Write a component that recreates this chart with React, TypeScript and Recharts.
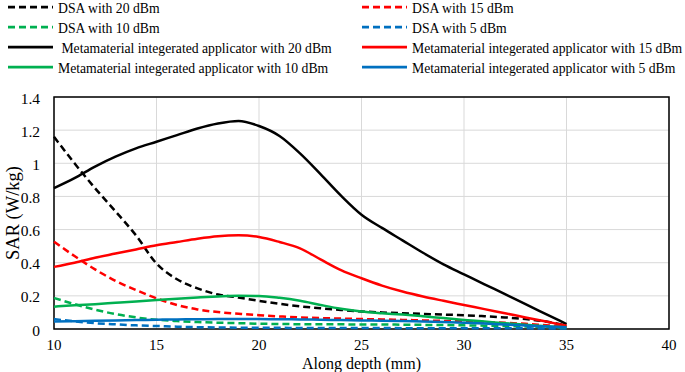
import React from "react";
import {
  LineChart,
  Line,
  XAxis,
  YAxis,
  CartesianGrid,
  ReferenceArea,
  Customized,
} from "recharts";

const depth = [10, 11, 12, 13, 14, 15, 16, 17, 18, 19, 20, 21, 22, 23, 24, 25, 26, 27, 28, 29, 30, 31, 32, 33, 34, 35];

const dsa20 = [1.16, 1.0, 0.85, 0.71, 0.565, 0.395, 0.3, 0.245, 0.208, 0.19, 0.17, 0.152, 0.137, 0.125, 0.115, 0.106, 0.1, 0.095, 0.091, 0.087, 0.083, 0.077, 0.07, 0.06, 0.045, 0.02];
const dsa15 = [0.527, 0.44, 0.36, 0.29, 0.235, 0.185, 0.145, 0.118, 0.102, 0.092, 0.083, 0.076, 0.07, 0.066, 0.063, 0.06, 0.058, 0.055, 0.052, 0.049, 0.046, 0.042, 0.037, 0.031, 0.023, 0.015];
const dsa10 = [0.187, 0.15, 0.117, 0.09, 0.07, 0.056, 0.048, 0.042, 0.038, 0.035, 0.032, 0.03, 0.029, 0.028, 0.028, 0.027, 0.027, 0.026, 0.025, 0.024, 0.022, 0.02, 0.018, 0.015, 0.012, 0.008];
const dsa5 = [0.06, 0.046, 0.035, 0.028, 0.022, 0.018, 0.014, 0.011, 0.009, 0.008, 0.007, 0.007, 0.006, 0.006, 0.006, 0.006, 0.006, 0.005, 0.005, 0.005, 0.005, 0.005, 0.004, 0.004, 0.003, 0.003];
const meta20 = [0.85, 0.91, 0.98, 1.04, 1.09, 1.13, 1.17, 1.21, 1.24, 1.255, 1.225, 1.165, 1.06, 0.935, 0.805, 0.69, 0.61, 0.535, 0.46, 0.39, 0.33, 0.27, 0.21, 0.15, 0.09, 0.03];
const meta15 = [0.375, 0.4, 0.43, 0.455, 0.48, 0.505, 0.525, 0.545, 0.56, 0.565, 0.555, 0.525, 0.487, 0.42, 0.355, 0.306, 0.262, 0.226, 0.196, 0.17, 0.145, 0.12, 0.095, 0.07, 0.045, 0.02];
const meta10 = [0.135, 0.143, 0.15, 0.158, 0.166, 0.175, 0.183, 0.19, 0.196, 0.2, 0.199, 0.188, 0.17, 0.145, 0.122, 0.105, 0.095, 0.087, 0.077, 0.066, 0.055, 0.045, 0.035, 0.025, 0.016, 0.01];
const meta5 = [0.045, 0.047, 0.05, 0.052, 0.054, 0.056, 0.058, 0.059, 0.06, 0.06, 0.06, 0.059, 0.058, 0.056, 0.054, 0.052, 0.05, 0.048, 0.045, 0.042, 0.038, 0.033, 0.027, 0.021, 0.015, 0.01];

const xTicks = [10, 15, 20, 25, 30, 35, 40];
const yTicks = [0, 0.2, 0.4, 0.6, 0.8, 1, 1.2, 1.4];

const seriesKeys = ["dsa20", "dsa15", "dsa10", "dsa5", "meta20", "meta15", "meta10", "meta5"];
const seriesLabels = [
  "DSA with 20 dBm",
  "DSA with 15 dBm",
  "DSA with 10 dBm",
  "DSA with 5 dBm",
  " Metamaterial integerated applicator with 20 dBm",
  "Metamaterial integerated applicator with 15 dBm",
  "Metamaterial integerated applicator with 10 dBm",
  "Metamaterial integerated applicator with 5 dBm",
];
const seriesColors = ["#000000", "#ff0000", "#00b050", "#0070c0", "#000000", "#ff0000", "#00b050", "#0070c0"];
const seriesDashed = [true, true, true, true, false, false, false, false];

const seriesValues = [dsa20, dsa15, dsa10, dsa5, meta20, meta15, meta10, meta5];

const data = depth.map((d, i) => {
  const row: Record<string, number> = { depth: d };
  seriesKeys.forEach((k, j) => {
    row[k] = seriesValues[j][i];
  });
  return row;
});

const FONT = '"Liberation Serif", "Times New Roman", serif';
const DASH = "7 4";

const XTick = (props: any) => {
  const { x, y, payload } = props;
  return (
    <text x={x} y={y + 16} textAnchor="middle" dominantBaseline="central" fontFamily={FONT} fontSize={15} fill="#000">
      {payload.value}
    </text>
  );
};

const YTick = (props: any) => {
  const { x, y, payload } = props;
  return (
    <text x={x - 14} y={y + 1} textAnchor="end" dominantBaseline="central" fontFamily={FONT} fontSize={15.5} fill="#000">
      {payload.value}
    </text>
  );
};

const Decorations = () => {
  const rowsY = [7, 27, 47, 67];
  const colLine = [
    [8, 53],
    [362, 407],
  ];
  const colText = [58, 412];
  return (
    <g>
      {seriesLabels.map((label, i) => {
        const row = Math.floor(i / 2);
        const col = i % 2;
        const y = rowsY[row];
        return (
          <g key={label}>
            <line
              x1={colLine[col][0]}
              x2={colLine[col][1]}
              y1={y}
              y2={y}
              stroke={seriesColors[i]}
              strokeWidth={2.75}
              strokeDasharray={seriesDashed[i] ? DASH : undefined}
            />
            <text
              x={colText[col]}
              y={y + 1}
              dominantBaseline="central"
              fontFamily={FONT}
              fontSize={13.7}
              fill="#000"
              style={{ whiteSpace: "pre" }}
            >
              {label}
            </text>
          </g>
        );
      })}
      <text x={361.5} y={363} textAnchor="middle" dominantBaseline="central" fontFamily={FONT} fontSize={16} fill="#000">
        Along depth (mm)
      </text>
      <text
        x={0}
        y={0}
        transform="translate(13,213) rotate(-90)"
        textAnchor="middle"
        dominantBaseline="central"
        fontFamily={FONT}
        fontSize={18.5}
        fill="#000"
      >
        SAR (W/kg)
      </text>
    </g>
  );
};

export default function App() {
  return (
    <div style={{ position: "absolute", left: 0, top: 0, width: 685, height: 372, background: "#fff" }}>
      <LineChart width={685} height={372} data={data} margin={{ top: 97, right: 16, bottom: 0, left: 0 }}>
        <CartesianGrid stroke="#d9d9d9" strokeWidth={1} />
        <XAxis
          dataKey="depth"
          type="number"
          domain={[10, 40]}
          ticks={xTicks}
          height={43}
          tickLine={false}
          axisLine={false}
          tickSize={0}
          tickMargin={0}
          tick={<XTick />}
          interval={0}
        />
        <YAxis
          type="number"
          domain={[0, 1.4]}
          ticks={yTicks}
          width={54}
          tickLine={false}
          axisLine={false}
          tickSize={0}
          tickMargin={0}
          tick={<YTick />}
          interval={0}
        />
        {seriesKeys.map((k, i) => (
          <Line
            key={k}
            type="monotone"
            dataKey={k}
            stroke={seriesColors[i]}
            strokeWidth={2.5}
            strokeDasharray={seriesDashed[i] ? DASH : undefined}
            dot={false}
            activeDot={false}
            isAnimationActive={false}
          />
        ))}
        <ReferenceArea x1={10} x2={40} y1={0} y2={1.4} fill="none" fillOpacity={0} stroke="#000" strokeWidth={1.5} ifOverflow="visible" />
        <Customized component={Decorations} />
      </LineChart>
    </div>
  );
}
